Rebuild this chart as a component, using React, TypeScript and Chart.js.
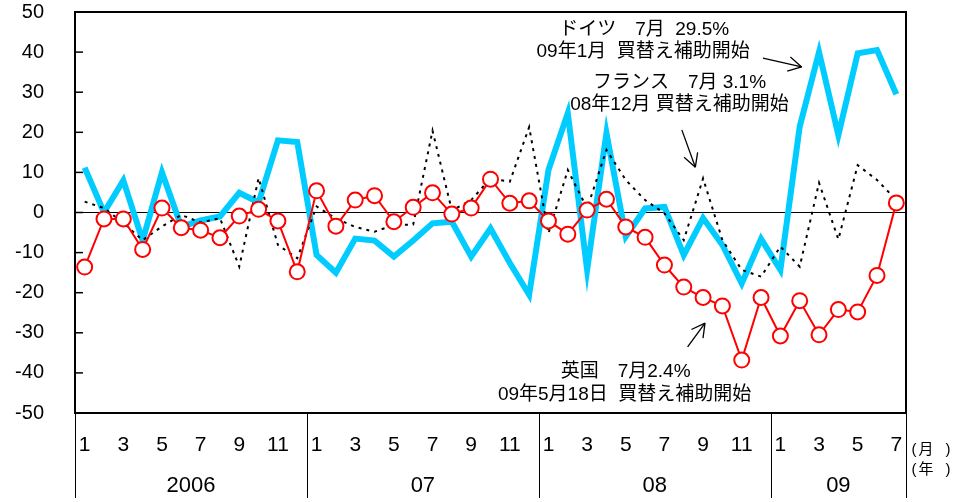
import React, { useEffect, useRef } from 'react';
import { Chart, registerables } from 'chart.js';

Chart.register(...registerables);

// ---- data ----
const monthLabels = [
  '1', '2', '3', '4', '5', '6', '7', '8', '9', '10', '11', '12',
  '1', '2', '3', '4', '5', '6', '7', '8', '9', '10', '11', '12',
  '1', '2', '3', '4', '5', '6', '7', '8', '9', '10', '11', '12',
  '1', '2', '3', '4', '5', '6', '7',
];
const yearLabels = ['2006', '07', '08', '09'];
const yearMonthCounts = [12, 12, 12, 7];

const germany = [
  11.2, 0, 8, -7, 10, -3.5, -2, -1, 4.9, 2.5, 18, 17.6,
  -10.6, -15, -6.5, -7, -11, -7, -2.7, -2.3, -11, -4, -12.6, -20.5,
  10.6, 24.8, -14.3, 19.8, -6, 1, 1.4, -10.6, -1.4, -8.1, -17.7, -6.6,
  -14.3, 21.4, 40, 19.3, 39.7, 40.5, 29.5,
];
const france = [
  2.7, 1.1, -2.6, -6.9, -3.5, -0.6, -2.5, -1.4, -13.5, 8.6, -8.1, -11.4,
  1.5, -1.5, -3.6, -4.8, -3.1, -3, 20.4, 0.5, 3.1, 8.5, 7.7, 21.3,
  -5.2, 10.6, 1, 15.6, 8.1, 3.1, -0.2, -6.9, 8.5, -6.9, -14.3, -16,
  -8.5, -13.5, 7.4, -6.7, 11.8, 8.1, 3.1,
];
const uk = [
  -13.6, -1.6, -1.6, -9.2, 1.1, -3.8, -4.4, -6.3, -0.9, 0.8, -2.1, -14.8,
  5.4, -3.4, 3.1, 4.2, -2.3, 1.3, 4.9, -0.4, 1.1, 8.3, 2.3, 2.9,
  -2.1, -5.4, 0.6, 3.3, -3.6, -6.2, -13.1, -18.6, -21.2, -23.3, -36.8, -21.2,
  -30.8, -22, -30.5, -24.2, -24.8, -15.7, 2.4,
];
const yMin = -50;
const yMax = 50;
const yStep = 10;

// annotation texts (anchored in data coordinates: category index, value)
const notes = [
  { text: 'ドイツ　7月  29.5%', at: [28.95, 45.5] },
  { text: '09年1月  買替え補助開始', at: [28.9, 40.1] },
  { text: 'フランス　7月 3.1%', at: [30.78, 32.3] },
  { text: '08年12月 買替え補助開始', at: [30.78, 26.8] },
  { text: '英国　7月2.4%', at: [27.99, -39.8] },
  { text: '09年5月18日  買替え補助開始', at: [27.94, -45.5] },
];
const arrows = [
  { from: [35.1, 38.5], to: [37.1, 36.3] },
  { from: [30.9, 20.6], to: [31.6, 11.3] },
  { from: [31.2, -33.5], to: [32.1, -27.6] },
];

const FONT = '"Liberation Sans", Arial, "Noto Sans CJK JP", sans-serif';

const overlay = {
  id: 'overlay',
  afterDraw(chart: any) {
    const { ctx, chartArea: a, scales } = chart;
    const x = scales.x;
    const y = scales.y;
    const line = (x1: number, y1: number, x2: number, y2: number) => {
      ctx.beginPath();
      ctx.moveTo(x1, y1);
      ctx.lineTo(x2, y2);
      ctx.stroke();
    };
    ctx.save();
    ctx.strokeStyle = '#000';
    ctx.fillStyle = '#000';

    // inner y tick marks
    ctx.lineWidth = 1.5;
    y.ticks.forEach((t: any) => {
      const py = y.getPixelForValue(t.value);
      line(a.left, py, a.left + 8, py);
    });

    // frame
    ctx.lineWidth = 2;
    ctx.strokeRect(a.left, a.top, a.right - a.left, a.bottom - a.top);

    // year separators
    const n = monthLabels.length;
    const edge = (i: number) =>
      i <= 0 ? a.left : i >= n ? a.right : (x.getPixelForValue(i - 1) + x.getPixelForValue(i)) / 2;
    const bounds = [0];
    let acc = 0;
    yearMonthCounts.forEach((c) => {
      acc += c;
      bounds.push(acc);
    });
    ctx.lineWidth = 1;
    bounds.forEach((b) => {
      const px = Math.round(edge(b)) + 0.5;
      line(px, a.bottom, px, a.bottom + 85);
    });

    // year labels
    ctx.font = `22px ${FONT}`;
    ctx.textAlign = 'center';
    ctx.textBaseline = 'middle';
    for (let k = 0; k < yearLabels.length; k++) {
      const cx = (edge(bounds[k]) + edge(bounds[k + 1])) / 2;
      ctx.fillText(yearLabels[k], cx, a.bottom + 73);
    }

    // units
    ctx.font = `15px ${FONT}`;
    const ux = a.right;
    [['(', 8], ['月', 20], [')', 42]].forEach(([s, dx]) => ctx.fillText(s as string, ux + (dx as number), a.bottom + 37));
    [['(', 8], ['年', 20], [')', 42]].forEach(([s, dx]) => ctx.fillText(s as string, ux + (dx as number), a.bottom + 57));

    // annotation text
    ctx.font = `19px ${FONT}`;
    notes.forEach((nt) => {
      ctx.fillText(nt.text, x.getPixelForValue(nt.at[0]), y.getPixelForValue(nt.at[1]));
    });

    // arrows
    ctx.lineWidth = 1.3;
    arrows.forEach((ar) => {
      const x1 = x.getPixelForValue(ar.from[0]);
      const y1 = y.getPixelForValue(ar.from[1]);
      const x2 = x.getPixelForValue(ar.to[0]);
      const y2 = y.getPixelForValue(ar.to[1]);
      line(x1, y1, x2, y2);
      const ang = Math.atan2(y2 - y1, x2 - x1);
      const len = 15;
      const spread = 0.5;
      line(x2, y2, x2 - len * Math.cos(ang - spread), y2 - len * Math.sin(ang - spread));
      line(x2, y2, x2 - len * Math.cos(ang + spread), y2 - len * Math.sin(ang + spread));
    });

    ctx.restore();
  },
};

export default function App() {
  const ref = useRef<HTMLCanvasElement | null>(null);

  useEffect(() => {
    if (!ref.current) return;
    const chart = new Chart(ref.current, {
      type: 'line',
      data: {
        labels: monthLabels,
        datasets: [
          {
            label: '英国',
            data: uk,
            borderColor: '#FF0000',
            borderWidth: 2,
            pointRadius: 7.5,
            pointBorderWidth: 2,
            pointBackgroundColor: '#FFFFFF',
            pointBorderColor: '#FF0000',
            tension: 0,
            order: 1,
          },
          {
            label: 'フランス',
            data: france,
            borderColor: '#000000',
            borderWidth: 2,
            borderDash: [3, 5],
            pointRadius: 0,
            tension: 0,
            order: 2,
          },
          {
            label: 'ドイツ',
            data: germany,
            borderColor: '#00CCFF',
            borderWidth: 6,
            borderJoinStyle: 'miter',
            pointRadius: 0,
            tension: 0,
            order: 3,
          },
        ],
      },
      options: {
        animation: false,
        responsive: false,
        maintainAspectRatio: false,
        devicePixelRatio: 1,
        layout: { padding: { top: 12, right: 51, left: 0, bottom: 0 } },
        plugins: {
          legend: { display: false },
          tooltip: { enabled: false },
        },
        scales: {
          x: {
            type: 'category',
            offset: true,
            grid: { display: false, drawTicks: false },
            border: { display: false },
            ticks: {
              autoSkip: false,
              maxRotation: 0,
              minRotation: 0,
              padding: 20,
              color: '#000',
              font: { family: FONT, size: 21 },
              callback: (_v: any, i: number) => (Number(monthLabels[i]) % 2 === 1 ? monthLabels[i] : ''),
            },
            afterFit: (s: any) => {
              s.height = 89;
            },
          },
          y: {
            min: yMin,
            max: yMax,
            ticks: {
              stepSize: yStep,
              padding: 0,
              color: '#000',
              font: { family: FONT, size: 20 },
            },
            grid: {
              drawTicks: true,
              tickLength: 31,
              tickColor: 'rgba(0,0,0,0)',
              color: (c: any) => (c.tick && c.tick.value === 0 ? '#000000' : 'rgba(0,0,0,0)'),
              lineWidth: 1,
            },
            border: { display: false },
            afterFit: (s: any) => {
              s.width = 75;
            },
          },
        },
      },
      plugins: [overlay],
    });
    return () => chart.destroy();
  }, []);

  return (
    <div style={{ position: 'fixed', left: 0, top: 0, width: 957, height: 502, background: '#fff' }}>
      <canvas ref={ref} width={957} height={502} style={{ width: 957, height: 502, display: 'block' }} />
    </div>
  );
}
